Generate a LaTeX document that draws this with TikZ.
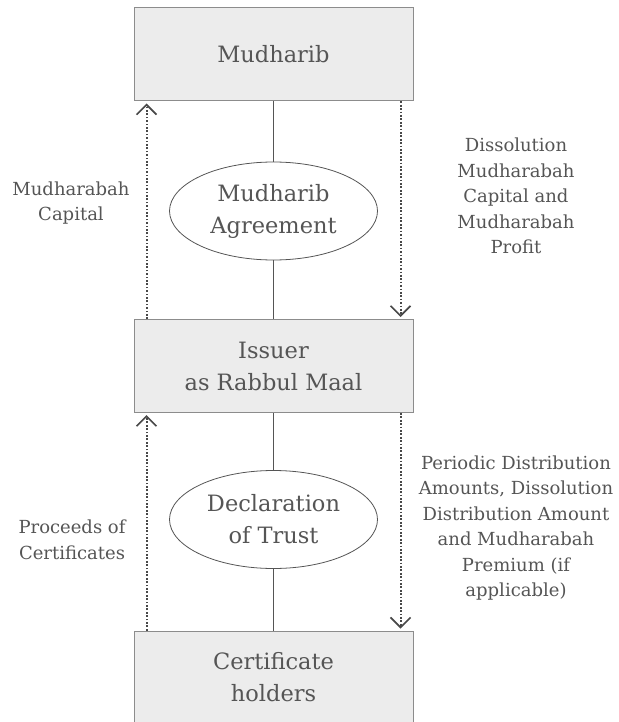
\documentclass[tikz,border=0pt]{standalone}
\usepackage{fontspec}
\setmainfont{DejaVu Serif}
\usepackage{tikz}
\usetikzlibrary{                          % TikZ libraries
                shapes,                   % .
                arrows.meta,              % .
                calc}
\usepackage{xcolor}
\definecolor{boxgray}{HTML}{ECECEC}
\definecolor{edgegray}{HTML}{8C8C8C}
\definecolor{inkgray}{HTML}{555555}

\begin{document}
\begin{tikzpicture}[x=1pt,y=-1pt
                    ]
                % define styles
\tikzset{party/.style={rectangle,
                       draw=edgegray,
                       fill=boxgray,
                       line width=1pt,
                       minimum width=279pt,
                       minimum height=93pt,
                       inner sep=0,
                       align=center,
                       text=inkgray,
                       font=\fontsize{22.5}{32}\selectfont
                       },
         contract/.style={ellipse,
                       draw=inkgray,
                       line width=0.8pt,
                       minimum width=208pt,
                       minimum height=98pt,
                       inner sep=0,
                       align=center,
                       text=inkgray,
                       font=\fontsize{22.5}{32}\selectfont
                       },
         flowtext/.style={align=center,
                       inner sep=0,
                       text=inkgray,
                       font=\fontsize{18}{25.5}\selectfont
                       },
         link/.style={draw=inkgray, line width=0.8pt},
         flow/.style={draw=inkgray!85!black,
                       line width=2pt,
                       dash pattern=on 1.7pt off 1.7pt,
                       -{Straight Barb[length=10pt,width=20pt,line width'=1.6pt]}
                       }
}

\useasboundingbox (0,0) rectangle (618,722);
\clip (0,0) rectangle (618,722);

% nodes
\node[party]    (mudharib) at (273.5, 54.5)  {Mudharib};
\node[party]    (issuer)   at (273.5,366.0)  {Issuer\\as Rabbul Maal};
\node[party]    (holders)  at (273.5,677.5)  {Certificate\\holders};

\node[contract] (agree)    at (273.5,211.0)  {Mudharib\\Agreement};
\node[contract] (trust)    at (273.5,519.5)  {Declaration\\of Trust};

% contract links
\draw[link] (mudharib) -- (agree);
\draw[link] (agree)    -- (issuer);
\draw[link] (issuer)   -- (trust);
\draw[link] (trust)    -- (holders);

% cash flows
\draw[flow] ([xshift=13pt]issuer.north west)    -- ([xshift=13pt,yshift=-2pt]mudharib.south west);
\draw[flow] ([xshift=-13pt]mudharib.south east) -- ([xshift=-13pt,yshift=2pt]issuer.north east);
\draw[flow] ([xshift=13pt]holders.north west)   -- ([xshift=13pt,yshift=-2pt]issuer.south west);
\draw[flow] ([xshift=-13pt]issuer.south east)   -- ([xshift=-13pt,yshift=2pt]holders.north east);

% labels
\node[flowtext] (capital)  at ( 71.0,203.0) {Mudharabah\\Capital};
\node[flowtext] (dissolve) at (516.0,196.0) {Dissolution\\Mudharabah\\Capital and\\Mudharabah\\Profit};
\node[flowtext] (proceeds) at ( 72.0,540.0) {Proceeds of\\Certificates};
\node[flowtext] (periodic) at (516.0,528.0) {Periodic Distribution\\Amounts, Dissolution\\Distribution Amount\\and Mudharabah\\Premium (if\\applicable)};

\end{tikzpicture}
\end{document}
